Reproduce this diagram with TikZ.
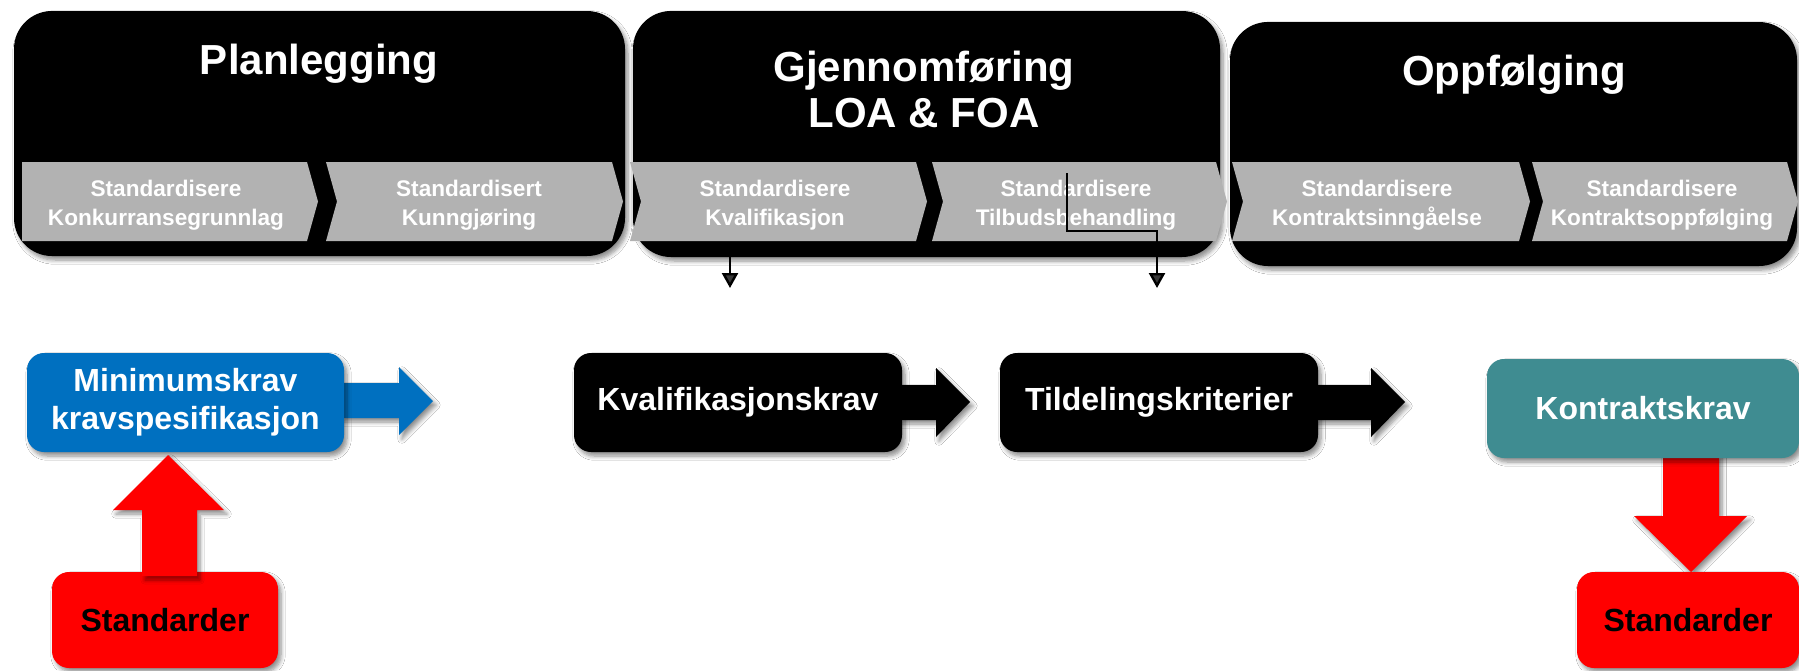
\documentclass[tikz,border=0pt]{standalone}
\usepackage{fontspec}
\setmainfont{Liberation Sans}
\usetikzlibrary{arrows.meta,shadows.blur}
\definecolor{chevgray}{RGB}{178,178,178}
\definecolor{mkblue}{RGB}{0,112,192}
\definecolor{tealbox}{RGB}{63,140,145}
\definecolor{redx}{RGB}{255,0,0}
\tikzset{
  shad/.style={blur shadow={shadow xshift=1.5pt, shadow yshift=-2pt, shadow blur steps=6, shadow opacity=45}},
  bigbox/.style={fill=black, rounded corners=19pt, inner sep=0pt, outer sep=0pt, anchor=north west, shad},
  titletext/.style={text=white, font=\bfseries\fontsize{21}{23}\selectfont, inner sep=0pt, align=center},
  chevtext/.style={text=white, font=\bfseries\fontsize{11.3}{14.5}\selectfont, inner sep=0pt, align=center},
  smallbox/.style={rounded corners=8.5pt, text=white, font=\bfseries\fontsize{16}{19}\selectfont, inner sep=0pt, outer sep=0pt, align=center, shad},
  blockarrow/.style={shad},
  conn/.style={line width=1.2pt, -{Triangle[width=8pt,length=7.5pt]}}
}
\begin{document}
\begin{tikzpicture}[x=0.5pt,y=-0.5pt]
\useasboundingbox (0,0) rectangle (1799,670);
\fill[white] (0,0) rectangle (1799,670);

% phase boxes
\node[bigbox, minimum width=305.5pt, minimum height=122.5pt] (plan) at (14,11) {};
\node[bigbox, minimum width=293.5pt, minimum height=123pt] (gjen) at (633,11) {};
\node[bigbox, minimum width=283.5pt, minimum height=122pt] (oppf) at (1230,22) {};

% chevrons
\fill[chevgray] (22,162) -- (307,162) -- (318,201.5) -- (307,241) -- (22,241) -- cycle;
\fill[chevgray] (326,162) -- (612,162) -- (623,201.5) -- (612,241) -- (326,241) -- (337,201.5) -- cycle;
\fill[chevgray] (630,162) -- (916,162) -- (927,201.5) -- (916,241) -- (630,241) -- (641,201.5) -- cycle;
\fill[chevgray] (932,162) -- (1216,162) -- (1227,201.5) -- (1216,241) -- (932,241) -- (943,201.5) -- cycle;
\fill[chevgray] (1232,162) -- (1519,162) -- (1530,201.5) -- (1519,241) -- (1232,241) -- (1243,201.5) -- cycle;
\fill[chevgray] (1532,162) -- (1787,162) -- (1798,201.5) -- (1787,241) -- (1532,241) -- (1543,201.5) -- cycle;

% titles
\node[titletext, anchor=base] (tplan) at (319,74) {Planlegging};
\node[titletext] (tgjen) at (924,89) {Gjennomføring\\LOA \& FOA};
\node[titletext, anchor=base] (toppf) at (1514,85) {Oppfølging};

% chevron texts
\node[chevtext] (c1) at (166,205) {Standardisere\\Konkurransegrunnlag};
\node[chevtext] (c2) at (469,205) {Standardisert\\Kunngjøring};
\node[chevtext] (c3) at (775,205) {Standardisere\\Kvalifikasjon};
\node[chevtext] (c4) at (1076,205) {Standardisere\\Tilbudsbehandling};
\node[chevtext] (c5) at (1377,205) {Standardisere\\Kontraktsinngåelse};
\node[chevtext] (c6) at (1662,205) {Standardisere\\Kontraktsoppfølging};

% block arrows
\fill[mkblue, blockarrow] (340,383) -- (399,383) -- (399,367) -- (433,401) -- (399,435) -- (399,418) -- (340,418) -- cycle;
\fill[black, blockarrow] (898,385) -- (936,385) -- (936,368) -- (970,402) -- (936,437) -- (936,420) -- (898,420) -- cycle;
\fill[black, blockarrow] (1314,385) -- (1371,385) -- (1371,368) -- (1405,402) -- (1371,437) -- (1371,420) -- (1314,420) -- cycle;
\fill[redx, blockarrow] (1663,454) -- (1663,516) -- (1634,516) -- (1691,572) -- (1747,516) -- (1719,516) -- (1719,454) -- cycle;

% small boxes
\node[smallbox, fill=mkblue, minimum width=158.5pt, minimum height=49.5pt] (mk) at (185.5,402.5) {Minimumskrav\\kravspesifikasjon};
\node[smallbox, fill=black, minimum width=164pt, minimum height=49.5pt] (kv) at (738,402.5) {Kvalifikasjonskrav};
\node[smallbox, fill=black, minimum width=159pt, minimum height=49.5pt] (ti) at (1159,402.5) {Tildelingskriterier};
\node[smallbox, fill=tealbox, minimum width=156pt, minimum height=49.5pt] (ko) at (1643,408.5) {Kontraktskrav};
\node[smallbox, fill=redx, text=black, minimum width=113pt, minimum height=48pt] (st1) at (165,620) {Standarder};
\node[smallbox, fill=redx, text=black, minimum width=111pt, minimum height=48pt] (st2) at (1688,620) {Standarder};

% red up arrow
\fill[redx, blockarrow] (142,576) -- (142,510) -- (113,510) -- (168,455) -- (224,510) -- (197,510) -- (197,576) -- cycle;

% thin connectors
\coordinate (k1a) at (730,257);
\coordinate (k1b) at (730,288);
\draw[conn] (k1a) -- (k1b);
\coordinate (t1a) at (1067,173);
\coordinate (t1m) at (1157,231);
\coordinate (t1b) at (1157,288);
\draw[conn] (t1a) |- (t1m) -- (t1b);
\end{tikzpicture}
\end{document}
